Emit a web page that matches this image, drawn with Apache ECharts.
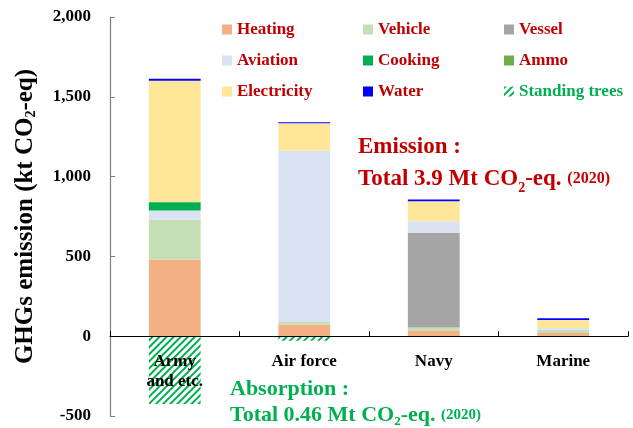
<!DOCTYPE html>
<html>
<head>
<meta charset="utf-8">
<script src="https://cdn.jsdelivr.net/npm/echarts@6/dist/echarts.min.js"></script>
<style>html,body{margin:0;padding:0;background:#fff;}#c{width:633px;height:428px;}</style>
</head>
<body>
<div id="c"></div>
<script>
var categories = ['Army\nand etc.', 'Air force', 'Navy', 'Marine'];
var heating     = [480, 73, 33, 20];
var vehicle     = [250, 16, 21, 20];
var vessel      = [0, 0, 594, 0];
var aviation    = [58, 1073, 72, 12];
var cooking     = [52, 0, 0, 0];
var ammo        = [2, 0, 0, 0];
var electricity = [758, 173, 126, 50];
var water       = [13, 5, 10, 10];
var standingTrees = [-425, -28, -5, -5];
var yTicks = { min: -500, max: 2000, interval: 500 };

var serif = '"Liberation Serif", "Times New Roman", serif';
var red = '#C00000', green = '#00B050';

function mk(name, data, color, extra) {
  var s = {
    name: name, type: 'bar', stack: 'total', data: data, barWidth: '40%',
    itemStyle: { color: color }
  };
  if (extra) Object.assign(s.itemStyle, extra);
  return s;
}

var series = [
  mk('Heating', heating, '#F4B183'),
  mk('Vehicle', vehicle, '#C5E0B4'),
  mk('Vessel', vessel, '#A5A5A5'),
  mk('Aviation', aviation, '#DAE3F3'),
  mk('Cooking', cooking, '#00B050'),
  mk('Ammo', ammo, '#70AD47'),
  mk('Electricity', electricity, '#FFE699'),
  mk('Water', water, '#0000FF'),
  mk('Standing trees', standingTrees, '#ffffff', {
    decal: { symbol: 'rect', dashArrayX: [1, 0], dashArrayY: [2, 3], rotation: -Math.PI / 4, color: green, symbolSize: 1 }
  })
];

function legend(left, names) {
  return {
    left: left, top: 21, orient: 'vertical', padding: 0, itemGap: 14,
    itemWidth: 10, itemHeight: 10, icon: 'rect',
    textStyle: { fontFamily: serif, fontWeight: 'bold', fontSize: 17, color: red },
    data: names.map(function (n) {
      return n === 'Standing trees' ? { name: n, textStyle: { color: green } } : n;
    })
  };
}

var chart = echarts.init(document.getElementById('c'), null, { renderer: 'canvas' });
chart.setOption({
  animation: false,
  backgroundColor: '#fff',
  grid: { left: 110, right: 5, top: 17, bottom: 12, containLabel: false, outerBoundsMode: 'none' },
  legend: [
    legend(222, ['Heating', 'Aviation', 'Electricity']),
    legend(363, ['Vehicle', 'Cooking', 'Water']),
    legend(504, ['Vessel', 'Ammo', 'Standing trees'])
  ],
  xAxis: {
    type: 'category', data: categories, z: 10,
    axisLine: { onZero: true, lineStyle: { color: '#000', width: 1.2 } },
    axisTick: { show: true, inside: true, length: 5, lineStyle: { color: '#000' } },
    axisLabel: { fontFamily: serif, fontWeight: 'bold', fontSize: 17, color: '#000', margin: -64, lineHeight: 20, interval: 0, hideOverlap: false }
  },
  yAxis: {
    type: 'value', min: yTicks.min, max: yTicks.max, interval: yTicks.interval,
    name: 'GHGs emission (kt CO{s|2}-eq)',
    nameLocation: 'middle', nameGap: 72, nameRotate: 90,
    nameTextStyle: { fontFamily: serif, fontWeight: 'bold', fontSize: 25, color: '#000',
      rich: { s: { fontFamily: serif, fontWeight: 'bold', fontSize: 14, color: '#000', verticalAlign: 'bottom' } } },
    axisLine: { show: true, lineStyle: { color: '#7f7f7f', width: 1.2 } },
    axisTick: { show: true, inside: true, length: 5, lineStyle: { color: '#7f7f7f' } },
    splitLine: { show: false },
    axisLabel: {
      fontFamily: serif, fontWeight: 'bold', fontSize: 17, color: '#000', margin: 19,
      formatter: function (v) { return v.toLocaleString('en-US'); }
    }
  },
  graphic: [
    { type: 'text', left: 358, top: 131, z: 100, style: {
      text: 'Emission :\nTotal 3.9 Mt CO{s|2}-eq. {y|(2020)}',
      fontFamily: serif, fontWeight: 'bold', fontSize: 23, lineHeight: 32, fill: red,
      rich: { s: { fontFamily: serif, fontWeight: 'bold', fontSize: 14, fill: red, verticalAlign: 'bottom', lineHeight: 32 },
              y: { fontFamily: serif, fontWeight: 'bold', fontSize: 16, fill: red, lineHeight: 32 } } } },
    { type: 'text', left: 230, top: 376, z: 100, style: {
      text: 'Absorption :\nTotal 0.46 Mt CO{s|2}-eq. {y|(2020)}',
      fontFamily: serif, fontWeight: 'bold', fontSize: 22, lineHeight: 26, fill: green,
      rich: { s: { fontFamily: serif, fontWeight: 'bold', fontSize: 13, fill: green, verticalAlign: 'bottom', lineHeight: 26 },
              y: { fontFamily: serif, fontWeight: 'bold', fontSize: 15, fill: green, lineHeight: 26 } } } }
  ],
  series: series
});
</script>
</body>
</html>
